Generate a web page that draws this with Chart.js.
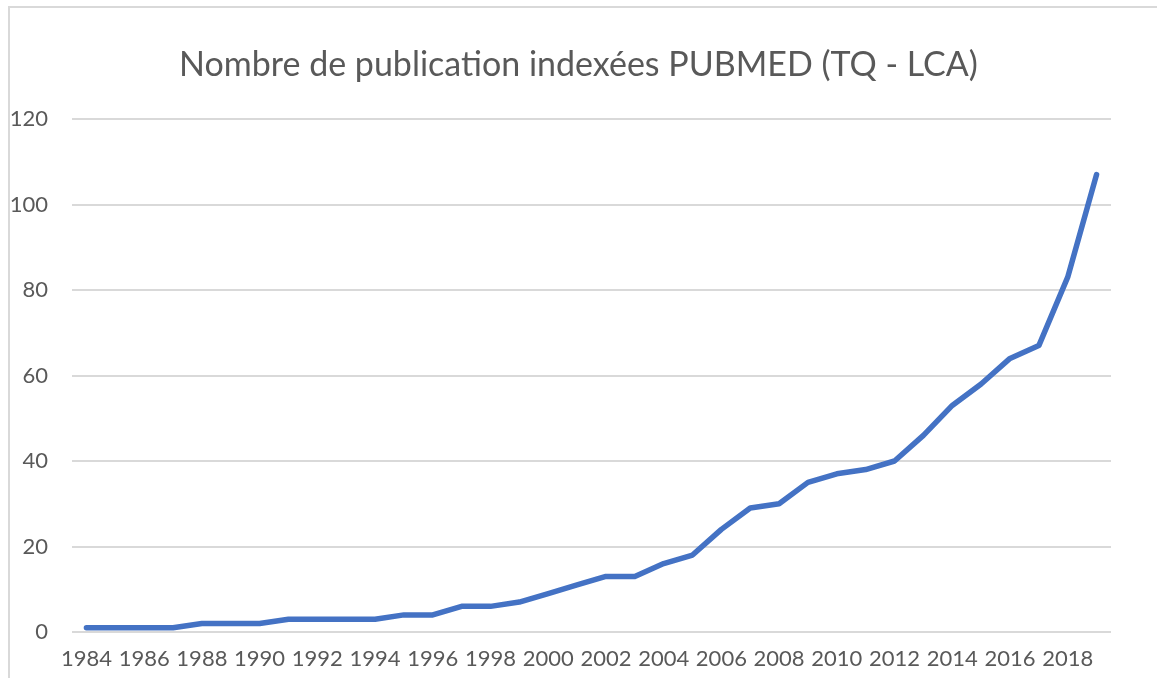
<!DOCTYPE html>
<html>
<head>
<meta charset="utf-8">
<script src="https://cdn.jsdelivr.net/npm/chart.js@4/dist/chart.umd.min.js"></script>
<style>
  html, body { margin: 0; padding: 0; background: #fff; }
  #wrap { position: relative; width: 1157px; height: 678px; }
  #frame { position: absolute; left: 8px; top: 6px; right: 0; bottom: 0; border-left: 2px solid #d9d9d9; border-top: 2px solid #d9d9d9; pointer-events: none; }
  canvas { position: absolute; left: 0; top: 0; }
</style>
</head>
<body>
<div id="wrap">
  <canvas id="c" width="1157" height="678"></canvas>
  <div id="frame"></div>
</div>
<script>
const titleText = "Nombre de publication indexées PUBMED (TQ - LCA)";
const years = [1984,1985,1986,1987,1988,1989,1990,1991,1992,1993,1994,1995,1996,1997,1998,1999,2000,2001,2002,2003,2004,2005,2006,2007,2008,2009,2010,2011,2012,2013,2014,2015,2016,2017,2018,2019];
const publications = [1,1,1,1,2,2,2,3,3,3,3,4,4,6,6,7,9,11,13,13,16,18,24,29,30,35,37,38,40,46,53,58,64,67,83,107];
const yTicks = [0,20,40,60,80,100,120];

const textColor = "#595959";
const fontFamily = "Lato, 'Liberation Sans', sans-serif";

new Chart(document.getElementById("c"), {
  type: "line",
  data: {
    labels: years.map(String),
    datasets: [{
      data: publications,
      borderColor: "#4472C4",
      borderWidth: 5.5,
      pointRadius: 0,
      tension: 0,
      fill: false,
      borderJoinStyle: "round",
      borderCapStyle: "round",
      yAxisID: "y"
    }]
  },
  options: {
    responsive: false,
    animation: false,
    layout: { padding: 0 },
    plugins: {
      legend: { display: false },
      tooltip: { enabled: false },
      title: {
        display: true,
        text: titleText,
        color: textColor,
        font: { family: fontFamily, size: 34, weight: "normal", lineHeight: 1.2 },
        padding: { top: 45, bottom: 33.2 }
      }
    },
    scales: {
      x: {
        type: "category",
        offset: true,
        grid: { display: false, drawTicks: false },
        border: { display: false },
        ticks: {
          autoSkip: false,
          maxRotation: 0,
          minRotation: 0,
          padding: 14,
          color: textColor,
          font: { family: fontFamily, size: 22 },
          callback: function(value, index) { return index % 2 === 0 ? this.getLabelForValue(value) : ""; }
        },
        afterFit: function(scale) { scale.height = 46; }
      },
      y: {
        min: 0,
        max: 120,
        afterBuildTicks: function(scale) { scale.ticks = yTicks.map(v => ({ value: v })); },
        grid: { color: "#d9d9d9", lineWidth: 2, drawTicks: false },
        border: { display: false },
        ticks: {
          padding: 24,
          color: textColor,
          font: { family: fontFamily, size: 22 }
        },
        afterFit: function(scale) { scale.width = 72; }
      },
      yRight: {
        position: "right",
        display: true,
        min: 0,
        max: 120,
        grid: { display: false, drawTicks: false },
        border: { display: false },
        ticks: { display: false },
        afterFit: function(scale) { scale.width = 46; }
      }
    }
  }
});
</script>
</body>
</html>
